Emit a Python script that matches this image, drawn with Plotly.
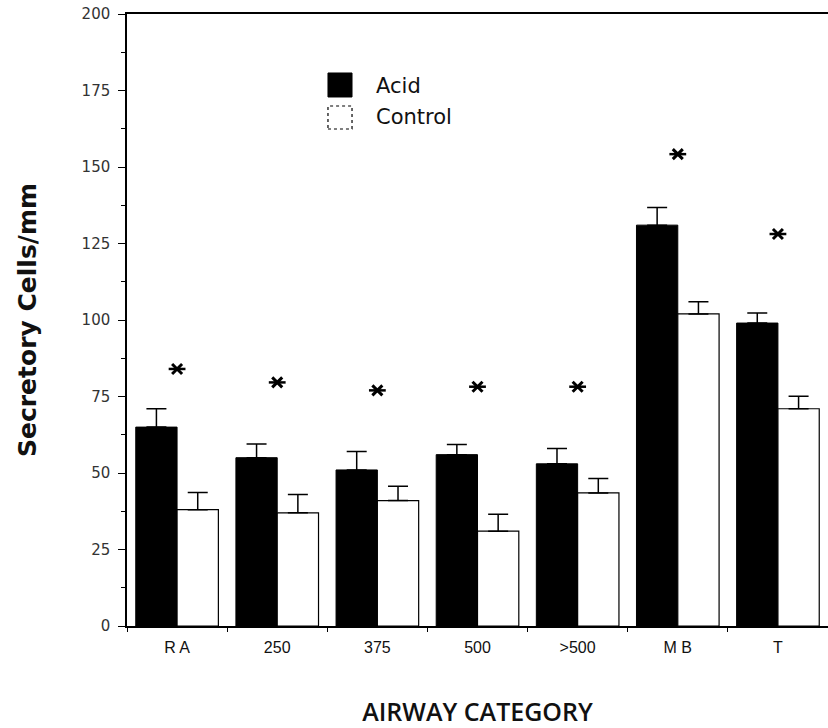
import plotly.graph_objects as go

# Airway categories along the x axis
categories = ["R A", "250", "375", "500", ">500", "M B", "T"]

# Mean secretory cells per mm and upper SEM for each group
acid = [65.0, 55.0, 51.0, 56.0, 53.0, 131.0, 99.0]
acid_err = [6.0, 4.5, 6.0, 3.3, 5.0, 5.8, 3.3]
control = [38.0, 37.0, 41.0, 31.0, 43.5, 102.0, 71.0]
control_err = [5.6, 6.0, 4.7, 5.5, 4.7, 4.0, 4.1]

# Significance markers (height of each asterisk)
star_y = [84.0, 79.6, 77.0, 78.2, 78.2, 154.2, 128.1]

y_ticks = [0, 25, 50, 75, 100, 125, 150, 175, 200]

err_style = dict(type="data", symmetric=False, thickness=1.5, width=10, color="black")

fig = go.Figure()
fig.add_trace(go.Bar(
    x=categories, y=acid, name="Acid",
    marker=dict(color="black", line=dict(color="black", width=1)),
    error_y=dict(array=acid_err, arrayminus=[0] * len(acid), **err_style),
))
fig.add_trace(go.Bar(
    x=categories, y=control, name="Control",
    marker=dict(color="white", line=dict(color="black", width=1.2)),
    error_y=dict(array=control_err, arrayminus=[0] * len(control), **err_style),
))
# six-armed asterisk: an X plus a horizontal stroke
fig.add_trace(go.Scatter(
    x=categories, y=star_y, mode="markers", showlegend=False, hoverinfo="skip",
    marker=dict(symbol="x-thin-open", size=10, color="black",
                line=dict(color="black", width=3)),
))
fig.add_trace(go.Scatter(
    x=categories, y=star_y, mode="markers", showlegend=False, hoverinfo="skip",
    marker=dict(symbol="line-ew-open", size=12, color="black",
                line=dict(color="black", width=2.5)),
))

# hand-drawn key with large swatches
fig.add_shape(type="rect", xref="paper", yref="paper",
              x0=0.2867, x1=0.3210, y0=0.8644, y1=0.9036,
              fillcolor="black", line=dict(color="black", width=1))
fig.add_shape(type="rect", xref="paper", yref="paper",
              x0=0.2867, x1=0.3210, y0=0.8121, y1=0.8497,
              fillcolor="white", line=dict(color="black", width=1.2, dash="dot"))
key_font = dict(family="DejaVu Sans", size=21, color="#111111")
fig.add_annotation(xref="paper", yref="paper", x=0.352, y=0.8830, text="Acid",
                   showarrow=False, xanchor="left", yanchor="middle", font=key_font)
fig.add_annotation(xref="paper", yref="paper", x=0.352, y=0.8320, text="Control",
                   showarrow=False, xanchor="left", yanchor="middle", font=key_font)

fig.update_layout(
    width=828, height=728,
    margin=dict(l=127, r=0, t=14, b=102),
    paper_bgcolor="white", plot_bgcolor="white",
    barmode="group", bargap=0.175, bargroupgap=0.0,
    showlegend=False,
    font=dict(family="DejaVu Sans", color="#222222"),
)
fig.update_xaxes(
    type="category", tickson="boundaries", automargin=False,
    showline=True, linecolor="black", linewidth=1.5, mirror=True,
    ticks="outside", ticklen=4, tickcolor="black", tickwidth=1.2,
    tickfont=dict(family="Liberation Sans", size=16, color="#111111"),
    ticklabelstandoff=6,
    showgrid=False, zeroline=False,
    title=dict(text="AIRWAY CATEGORY", standoff=65,
               font=dict(family="Open Sans", size=25, color="#111111", weight=600)),
)
fig.update_yaxes(
    range=[0, 200], tickvals=y_ticks, ticktext=[str(v) for v in y_ticks],
    automargin=False,
    showline=True, linecolor="black", linewidth=1.5,
    ticks="outside", ticklen=7, tickcolor="black", tickwidth=1.2,
    minor=dict(tick0=0, dtick=12.5, ticks="outside", ticklen=4,
               tickcolor="black", tickwidth=1.2),
    tickfont=dict(family="DejaVu Sans", size=15, color="#333333"),
    ticklabelstandoff=5,
    showgrid=False, zeroline=False,
    title=dict(text="Secretory Cells/mm", standoff=38,
               font=dict(family="DejaVu Sans", size=25, color="#111111", weight="bold")),
)

fig.write_html("out.html")
